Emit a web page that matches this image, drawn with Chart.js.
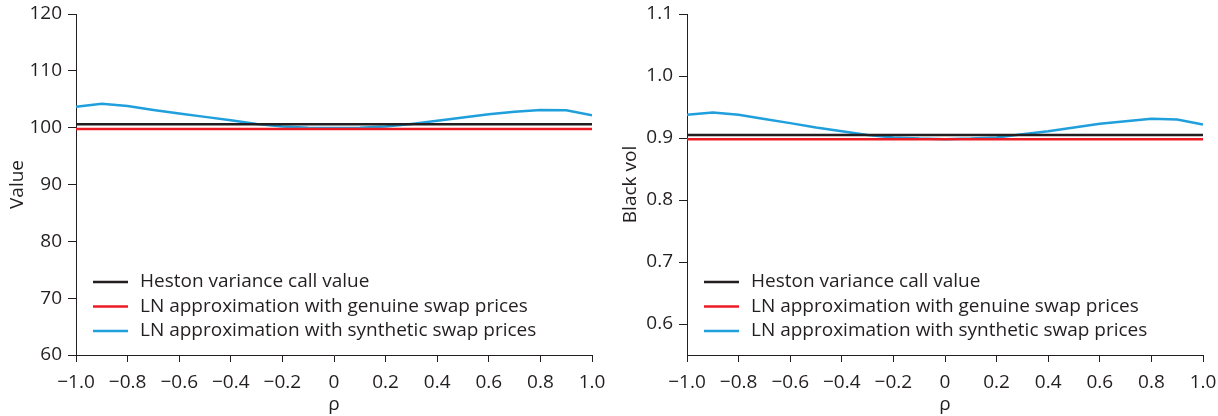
<!DOCTYPE html>
<html>
<head>
<meta charset="utf-8">
<script src="https://cdn.jsdelivr.net/npm/chart.js@4"></script>
<style>
  html, body { margin: 0; padding: 0; background: #fff; }
  .wrap { position: absolute; top: 0; height: 416px; }
  #w1 { left: 0; width: 609px; }
  #w2 { left: 609px; width: 609px; }
</style>
</head>
<body>
<div class="wrap" id="w1"><canvas id="chartValue"></canvas></div>
<div class="wrap" id="w2"><canvas id="chartVol"></canvas></div>
<script>
// rho grid
const rho = [-1.0, -0.9, -0.8, -0.7, -0.6, -0.5, -0.4, -0.3, -0.2, -0.1, 0,
             0.1, 0.2, 0.3, 0.4, 0.5, 0.6, 0.7, 0.8, 0.9, 1.0];

// left panel : values
const hestonValue  = [100.6, 100.6, 100.6, 100.6, 100.6, 100.6, 100.6, 100.6, 100.6, 100.6, 100.6,
                      100.6, 100.6, 100.6, 100.6, 100.6, 100.6, 100.6, 100.6, 100.6, 100.6];
const genuineValue = [99.77, 99.77, 99.77, 99.77, 99.77, 99.77, 99.77, 99.77, 99.77, 99.77, 99.77,
                      99.77, 99.77, 99.77, 99.77, 99.77, 99.77, 99.77, 99.77, 99.77, 99.77];
const syntheticValue = [103.7, 104.2, 103.8, 103.1, 102.5, 101.9, 101.3, 100.65, 100.2, 100.0, 99.95,
                        100.0, 100.2, 100.65, 101.2, 101.8, 102.35, 102.8, 103.1, 103.05, 102.2];

// right panel : black vols
const hestonVol  = [0.905, 0.905, 0.905, 0.905, 0.905, 0.905, 0.905, 0.905, 0.905, 0.905, 0.905,
                    0.905, 0.905, 0.905, 0.905, 0.905, 0.905, 0.905, 0.905, 0.905, 0.905];
const genuineVol = [0.898, 0.898, 0.898, 0.898, 0.898, 0.898, 0.898, 0.898, 0.898, 0.898, 0.898,
                    0.898, 0.898, 0.898, 0.898, 0.898, 0.898, 0.898, 0.898, 0.898, 0.898];
const syntheticVol = [0.9375, 0.941, 0.9375, 0.9307, 0.924, 0.917, 0.911, 0.905, 0.901, 0.899, 0.898,
                      0.899, 0.901, 0.906, 0.911, 0.917, 0.923, 0.927, 0.931, 0.930, 0.9216];

const xTicks = [-1.0, -0.8, -0.6, -0.4, -0.2, 0, 0.2, 0.4, 0.6, 0.8, 1.0];
const valueTicks = [60, 70, 80, 90, 100, 110, 120];
const volTicks = [0.6, 0.7, 0.8, 0.9, 1.0, 1.1];

const seriesNames = [
  'Heston variance call value',
  'LN approximation with genuine swap prices',
  'LN approximation with synthetic swap prices'
];
const colBlack = '#231f20';
const colRed = '#ed1c24';
const colBlue = '#1f9fdc';

Chart.defaults.font.family = '"Open Sans", sans-serif';
Chart.defaults.font.size = 19;
Chart.defaults.color = '#231f20';

function fmtX(v) {
  if (Math.abs(v) < 1e-9) return '0';
  const s = Math.abs(v).toFixed(1);
  return v < 0 ? '\u2212' + s : s;
}

function pts(ys) {
  return rho.map((x, i) => ({x: x, y: ys[i]}));
}

// legend drawn inside the plot area (lower left)
const innerLegend = {
  id: 'innerLegend',
  afterDatasetsDraw(chart) {
    const ctx = chart.ctx;
    const a = chart.chartArea;
    const rows = [73, 48.5, 24];
    ctx.save();
    ctx.font = '19px "Open Sans", sans-serif';
    ctx.textBaseline = 'middle';
    ctx.fillStyle = colBlack;
    chart.data.datasets.forEach((ds, i) => {
      const y = a.bottom - rows[i];
      ctx.strokeStyle = ds.borderColor;
      ctx.lineWidth = 2.5;
      ctx.beginPath();
      ctx.moveTo(a.left + 17, y);
      ctx.lineTo(a.left + 52, y);
      ctx.stroke();
      ctx.fillText(ds.label, a.left + 64, y);
    });
    ctx.restore();
  }
};

function makeChart(id, data3, yMin, yMax, yTicks, yTitle, yFmt, axisW, titlePad, padRight) {
  const ds = [
    {label: seriesNames[0], data: pts(data3[0]), borderColor: colBlack},
    {label: seriesNames[1], data: pts(data3[1]), borderColor: colRed},
    {label: seriesNames[2], data: pts(data3[2]), borderColor: colBlue}
  ].map(d => Object.assign(d, {borderWidth: 2.5, pointRadius: 0, tension: 0, fill: false}));

  return new Chart(document.getElementById(id), {
    type: 'line',
    data: {datasets: ds},
    options: {
      responsive: true,
      maintainAspectRatio: false,
      animation: false,
      layout: {padding: {top: 14, right: padRight, bottom: 0, left: 0}},
      plugins: {legend: {display: false}, tooltip: {enabled: false}},
      scales: {
        x: {
          type: 'linear',
          min: -1, max: 1,
          afterBuildTicks: s => { s.ticks = xTicks.map(v => ({value: v})); },
          afterFit: s => { s.height = 61; s.paddingLeft = 0; s.paddingRight = 0; },
          grid: {drawOnChartArea: false, drawTicks: true, tickLength: 7, color: colBlack, lineWidth: 1},
          border: {display: true, color: colBlack, width: 1},
          ticks: {callback: v => fmtX(v), padding: 9, maxRotation: 0, autoSkip: false},
          title: {display: true, text: '\u03c1', padding: {top: 0, bottom: 0}}
        },
        y: {
          type: 'linear',
          min: yMin, max: yMax,
          afterBuildTicks: s => { s.ticks = yTicks.map(v => ({value: v})); },
          afterFit: s => { s.width = axisW; s.paddingTop = 0; s.paddingBottom = 0; },
          grid: {drawOnChartArea: false, drawTicks: true, tickLength: 8, color: colBlack, lineWidth: 1},
          border: {display: true, color: colBlack, width: 1},
          ticks: {callback: yFmt, padding: 6, autoSkip: false},
          title: {display: true, text: yTitle, padding: {top: titlePad, bottom: 0}}
        }
      }
    },
    plugins: [innerLegend]
  });
}

makeChart('chartValue', [hestonValue, genuineValue, syntheticValue], 60, 120, valueTicks,
  'Value', v => String(v), 76, 6, 17);
makeChart('chartVol', [hestonVol, genuineVol, syntheticVol], 0.55, 1.1, volTicks,
  'Black vol', v => v.toFixed(1), 78, 10, 15);
</script>
</body>
</html>
